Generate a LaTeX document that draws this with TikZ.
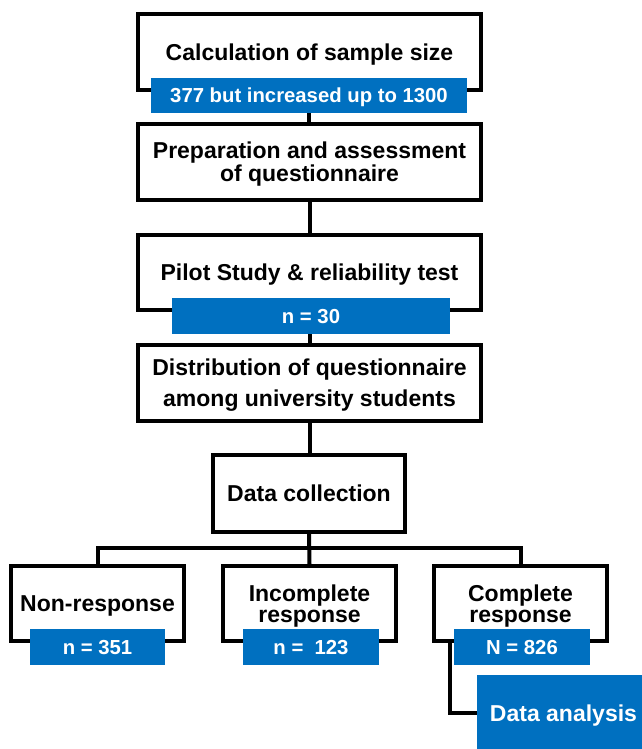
\documentclass[tikz,border=0pt]{standalone}
\usepackage{fontspec}
\setmainfont{Liberation Sans}
\definecolor{tagblue}{RGB}{0,112,192}
\tikzset{
  box/.style={draw=black, line width=3.5pt, fill=white, minimum width=343pt,
    minimum height=76pt, inner sep=0pt, align=center, text depth=0pt,
    font=\bfseries\fontsize{23}{23}\selectfont},
  smallbox/.style={box, minimum width=173pt, minimum height=75pt,
    font=\bfseries\fontsize{23}{21}\selectfont},
  tag/.style={fill=tagblue, text=white, minimum height=36pt, inner sep=0pt,
    text depth=0pt, font=\bfseries\fontsize{20.3}{22}\selectfont},
  link/.style={draw=black, line width=4pt}
}
\begin{document}
\begin{tikzpicture}[x=1pt,y=-1pt]
\useasboundingbox (0,0) rectangle (641,749);

\node[box] (calc) at (309.5,52) {Calculation of sample size};
\node[tag, minimum width=316pt, minimum height=35pt] (calctag) at (309,95.5) {377 but increased up to 1300};
\node[box] (prep) at (309.5,162) {Preparation and assessment\\of questionnaire};
\node[box, minimum height=75pt] (pilot) at (309.5,272.5) {Pilot Study \& reliability test};
\node[tag, minimum width=278pt] (pilottag) at (311,316) {n = 30};
\node[box] (dist) at (309.5,383) {Distribution of questionnaire\\[8pt]among university students};
\node[box, minimum width=192pt, minimum height=77pt] (coll) at (309,493.5) {Data collection};

\node[smallbox] (nonr) at (97.5,603.5) {Non-response};
\node[smallbox] (incomp) at (309.5,603.5) {Incomplete\\response};
\node[smallbox] (comp) at (520.5,603.5) {Complete\\response};
\node[tag, minimum width=135pt] (nonrtag) at (97.5,647) {n = 351};
\node[tag, minimum width=136pt] (incomptag) at (311,647) {n = \ 123};
\node[tag, minimum width=136pt] (comptag) at (522,647) {N = 826};
\node[tag, minimum width=173pt, minimum height=76pt,
  font=\bfseries\fontsize{23}{23}\selectfont] (analysis) at (563.5,713) {Data analysis};

\coordinate (fork) at (309.5,548);

\draw[link] (calctag.south) -- (calctag.south |- prep.north);
\draw[link] (prep) -- (pilot);
\draw[link] (pilot.south |- pilottag.south) -- (dist.north);
\draw[link] (dist.south) -- (dist.south |- coll.north);
\draw[link] (coll.south) -- (incomp.north);
\draw[link] (nonr.north) |- (fork) -| (comp.north);
\draw[link] ([xshift=-70.5pt]comp.south) |- (analysis.west);

\end{tikzpicture}
\end{document}
